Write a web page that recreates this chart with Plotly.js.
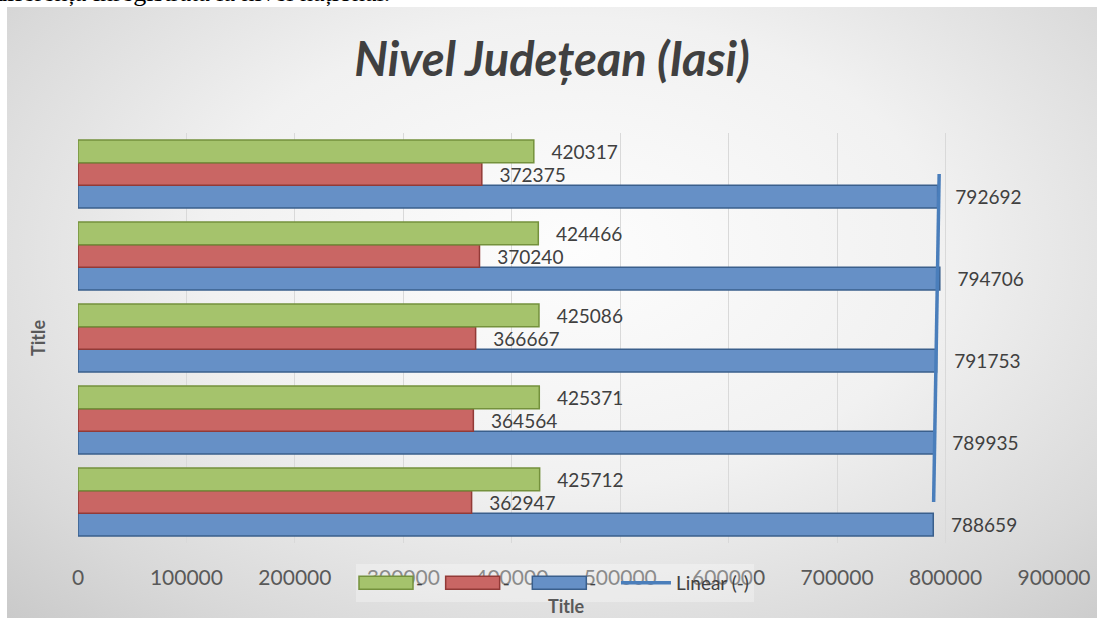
<!DOCTYPE html>
<html>
<head>
<meta charset="utf-8">
<script src="https://cdn.plot.ly/plotly-3.0.1.min.js"></script>
<style>
  body { margin: 0; background: #ffffff; width: 1097px; height: 618px; overflow: hidden; position: relative; }
  #sus {
    position: absolute; left: -6px; top: -22px;
    font-family: "Liberation Serif", serif; font-size: 26px; color: #000;
    white-space: nowrap;
  }
  #grafic {
    position: absolute; left: 7px; top: 7px; width: 1090px; height: 611px;
    background: radial-gradient(ellipse 75% 85% at 52% 40%, #fdfdfd 0%, #f1f1f1 45%, #d9d9d9 80%, #c9c9c9 100%);
  }
</style>
</head>
<body>
<div id="sus">diferența înregistrată la nivel național.</div>
<div id="grafic"></div>
<script>
// categorii (de jos in sus, ca in Excel)
const categorii = ["1", "2", "3", "4", "5"];

// serii
const valoriVerde = [425712, 425371, 425086, 424466, 420317];
const valoriRosu = [362947, 364564, 366667, 370240, 372375];
const valoriAlbastru = [788659, 789935, 791753, 794706, 792692];

// linia de tendinta (capete)
const tendintaX = [789000, 794100];
const tendintaY = [categorii[0], categorii[categorii.length - 1]];

const etichetaX = ["0", "100000", "200000", "300000", "400000", "500000", "600000", "700000", "800000", "900000"];
const valoriTickX = [0, 100000, 200000, 300000, 400000, 500000, 600000, 700000, 800000, 900000];

const fontEticheta = { family: "Lato, 'Open Sans', sans-serif", size: 21, color: "#404040" };
const spatiu = "\u00a0\u00a0\u00a0";
// numele seriilor e "-"; spatiile in plus dau distanta dintre intrarile legendei
const numeSerie = "-\u00a0\u00a0\u00a0";

const albastru = {
  type: 'bar', orientation: 'h', name: numeSerie, legendrank: 3,
  x: valoriAlbastru, y: categorii,
  marker: { color: '#6690c6', line: { color: '#3a5f8c', width: 1.5 } },
  text: valoriAlbastru.map(v => spatiu + v), textposition: 'outside',
  textfont: fontEticheta, cliponaxis: false, hoverinfo: 'x'
};

const rosu = {
  type: 'bar', orientation: 'h', name: numeSerie, legendrank: 2,
  x: valoriRosu, y: categorii,
  marker: { color: '#c96664', line: { color: '#923a37', width: 1.5 } },
  text: valoriRosu.map(v => spatiu + v), textposition: 'outside',
  textfont: fontEticheta, cliponaxis: false, hoverinfo: 'x'
};

const verde = {
  type: 'bar', orientation: 'h', name: numeSerie, legendrank: 1,
  x: valoriVerde, y: categorii,
  marker: { color: '#a5c36c', line: { color: '#74913c', width: 1.5 } },
  text: valoriVerde.map(v => spatiu + v), textposition: 'outside',
  textfont: fontEticheta, cliponaxis: false, hoverinfo: 'x'
};

const tendinta = {
  type: 'scatter', mode: 'lines', name: 'Linear (-)', legendrank: 4,
  x: tendintaX, y: tendintaY,
  line: { color: '#4a7ebb', width: 3.5 }, hoverinfo: 'skip'
};

const layout = {
  width: 1090, height: 611,
  paper_bgcolor: 'rgba(0,0,0,0)',
  plot_bgcolor: 'rgba(0,0,0,0)',
  margin: { l: 71, r: 43, t: 126, b: 75 },
  font: { family: "Lato, 'Open Sans', sans-serif", color: '#595959' },
  title: {
    text: '<b><i>Nivel Județean (Iasi)</i></b>',
    font: { family: "Lato, 'Open Sans', sans-serif", size: 47, color: '#404040' },
    x: 0.5, xanchor: 'center', xref: 'container',
    y: 1 - 53 / 611, yanchor: 'middle', yref: 'container'
  },
  barmode: 'group',
  bargap: 0.17,
  bargroupgap: 0,
  xaxis: {
    range: [0, 900000],
    tickvals: valoriTickX, ticktext: etichetaX,
    showgrid: true, gridcolor: '#d9d9d9', gridwidth: 1,
    zeroline: false, showline: false, ticks: '',
    ticklabelstandoff: 20,
    tickfont: { size: 21, color: '#595959' },
    fixedrange: true
  },
  yaxis: {
    type: 'category',
    showticklabels: false, showgrid: false, zeroline: false, showline: false, ticks: '',
    title: { text: '<b>Title</b>', font: { size: 18, color: '#595959' }, standoff: 26 },
    fixedrange: true
  },
  // titlul axei X, sub legenda
  annotations: [{
    text: '<b>Title</b>', xref: 'paper', yref: 'paper',
    x: 0.5, y: -0.154, xanchor: 'center', yanchor: 'middle',
    showarrow: false, font: { size: 18, color: '#595959' }
  }],
  showlegend: true,
  legend: {
    orientation: 'h',
    xref: 'container', yref: 'container',
    x: 349 / 1090, xanchor: 'left',
    y: 1 - 576 / 611, yanchor: 'middle',
    bgcolor: 'rgba(255,255,255,0.3)',
    font: { size: 19, color: '#404040' },
    itemwidth: 50
  }
};

const gd = document.getElementById('grafic');

// simbolurile din legenda sunt dreptunghiuri late, ca in Excel
function simboluriLate() {
  gd.querySelectorAll('.legend .traces path').forEach(function (p) {
    const d = p.getAttribute('d') || '';
    if (d.indexOf('H-6V-6') !== -1) p.setAttribute('d', 'M27,6.5H-27V-6.5H27Z');
  });
}

Plotly.newPlot(gd, [albastru, rosu, verde, tendinta], layout, { displayModeBar: false, staticPlot: true })
  .then(function () {
    simboluriLate();
    gd.on('plotly_afterplot', simboluriLate);
    setTimeout(simboluriLate, 50);
  });
</script>
</body>
</html>
